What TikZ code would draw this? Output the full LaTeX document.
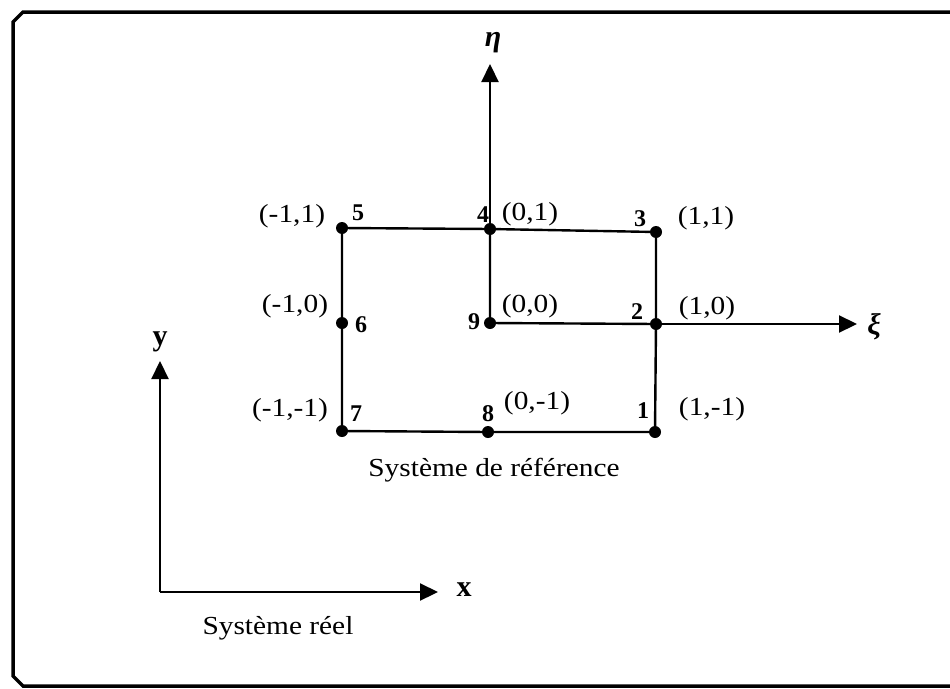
\documentclass[tikz,border=0pt]{standalone}
\usepackage{fontspec}
\setmainfont{Liberation Serif}
\newfontfamily\widefont[FakeStretch=1.13]{Liberation Serif}
\usetikzlibrary{arrows.meta}
\begin{document}
\begin{tikzpicture}[x=1pt,y=-1pt,
  dot/.style={circle,fill,inner sep=0pt,minimum size=12pt},
  lab/.style={font=\widefont\fontsize{26}{28}\selectfont,inner sep=0pt},
  num/.style={font=\fontsize{24}{26}\selectfont\bfseries,inner sep=0pt},
  gridline/.style={line width=2.4pt},
  axis/.style={line width=2.2pt,-{Triangle[length=18pt,width=17pt]}},
  txt/.style={font=\widefont\fontsize{26}{28}\selectfont,inner sep=0pt},
  axlab/.style={font=\fontsize{30}{32}\selectfont\bfseries,inner sep=0pt}]
\useasboundingbox (0,0) rectangle (950,688);
\draw[line width=3.5pt] (955,12) -- (23,12) -- (13,22) -- (13,676) -- (23,686) -- (955,686);
% nodes
\node[dot] (n5) at (342,228) {};
\node[dot] (n4) at (490,229) {};
\node[dot] (n3) at (656,232) {};
\node[dot] (n6) at (342,323) {};
\node[dot] (n9) at (490,323) {};
\node[dot] (n2) at (656,324) {};
\node[dot] (n7) at (342,431) {};
\node[dot] (n8) at (488,432) {};
\node[dot] (n1) at (655,432) {};
% grid
\draw[gridline] (n5.center) -- (n4.center) -- (n3.center) -- (n2.center) -- (n1.center) -- (n8.center) -- (n7.center) -- (n6.center) -- (n5.center);
\draw[gridline] (n4.center) -- (n9.center) -- (n2.center);
% reference axes
\coordinate (etatip) at (490,64);
\coordinate (xitip) at (857,324);
\draw[axis] (n4.center) -- (etatip);
\draw[axis] (n2.center) -- (xitip);
\node[axlab] (eta) at (493,43) {\textit{η}};
\node[axlab] (xi) at (874,327) {\textit{ξ}};
% real axes
\coordinate (O) at (160,592);
\coordinate (ytip) at (160,361);
\coordinate (xtip) at (438,592);
\draw[axis] (O) -- (ytip);
\draw[axis] (O) -- (xtip);
\node[axlab] (ylab) at (160,342) {y};
\node[axlab] (xlab) at (464,590) {x};
% point numbers
\node[num] (l5) at (358,213) {5};
\node[num] (l4) at (483,215) {4};
\node[num] (l3) at (640,219) {3};
\node[num] (l6) at (361,325) {6};
\node[num] (l9) at (474,322) {9};
\node[num] (l2) at (637,312) {2};
\node[num] (l7) at (356,414) {7};
\node[num] (l8) at (488,414) {8};
\node[num] (l1) at (643,411) {1};
% coordinates
\node[lab] (c5) at (292,216) {(-1,1)};
\node[lab] (c4) at (530,214) {(0,1)};
\node[lab] (c3) at (706,218) {(1,1)};
\node[lab] (c6) at (295,306) {(-1,0)};
\node[lab] (c9) at (530,306) {(0,0)};
\node[lab] (c2) at (707,308) {(1,0)};
\node[lab] (c7) at (290,410) {(-1,-1)};
\node[lab] (c8) at (537,403) {(0,-1)};
\node[lab] (c1) at (712,409) {(1,-1)};
% titles
\node[txt] (tref) at (494,470) {Système de référence};
\node[txt] (treel) at (278,628) {Système réel};
\end{tikzpicture}
\end{document}
